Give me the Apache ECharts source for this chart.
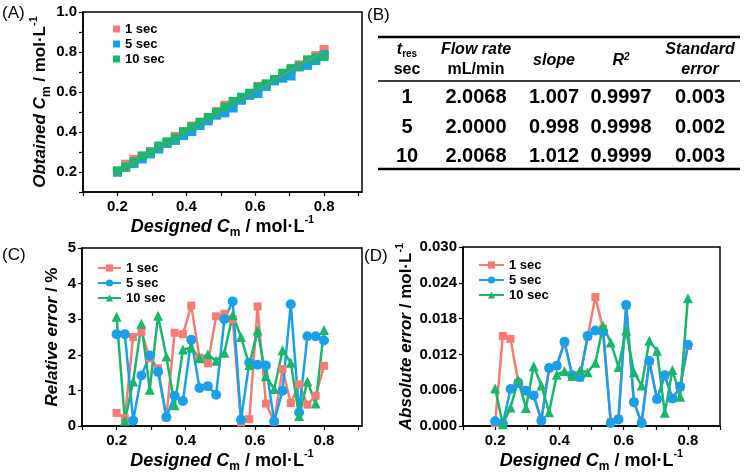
<!DOCTYPE html>
<html>
<head>
<meta charset="utf-8">
<script src="https://cdn.jsdelivr.net/npm/echarts@6/dist/echarts.min.js"></script>
<style>
html, body { margin: 0; padding: 0; background: #fff; }
#chart { width: 744px; height: 473px; }
</style>
</head>
<body>
<div id="chart"></div>
<script>
// designed concentration (mol/L), shared by A, C and D
const designed = [0.2, 0.224, 0.248, 0.272, 0.296, 0.32, 0.344, 0.368, 0.392, 0.416, 0.44, 0.464, 0.488,
  0.512, 0.536, 0.56, 0.584, 0.608, 0.632, 0.656, 0.68, 0.704, 0.728, 0.752, 0.776, 0.8];

// (A) obtained concentration
const obtained1 = [0.201, 0.239, 0.263, 0.279, 0.302, 0.325, 0.345, 0.378, 0.402, 0.430, 0.449, 0.472, 0.503,
  0.534, 0.552, 0.561, 0.585, 0.628, 0.636, 0.657, 0.691, 0.708, 0.736, 0.757, 0.782, 0.813];
const obtained5 = [0.199, 0.224, 0.242, 0.265, 0.290, 0.315, 0.343, 0.358, 0.382, 0.402, 0.432, 0.456, 0.484,
  0.496, 0.520, 0.559, 0.583, 0.592, 0.628, 0.656, 0.669, 0.680, 0.725, 0.733, 0.757, 0.787];
const obtained10 = [0.206, 0.224, 0.251, 0.280, 0.299, 0.330, 0.351, 0.370, 0.401, 0.425, 0.448, 0.473, 0.497,
  0.523, 0.553, 0.574, 0.594, 0.624, 0.641, 0.663, 0.694, 0.717, 0.730, 0.761, 0.771, 0.778];
// fit lines (ends)
const fitX = [0.2, 0.8];
const fit1 = [0.2, 0.806];
const fit5 = [0.199, 0.798];
const fit10 = [0.199, 0.81];

// (C) relative error, %
const rel1 = [0.37, 0.22, 2.50, 2.65, 1.90, 1.62, 0.24, 2.62, 2.58, 3.38, 1.92, 1.76, 3.08,
  3.15, 3.00, 0.10, 0.19, 3.36, 0.63, 0.12, 1.60, 0.64, 1.17, 0.60, 0.85, 1.69];
const rel5 = [2.58, 2.58, 0.15, 1.42, 1.98, 1.52, 0.25, 0.85, 0.70, 2.42, 1.07, 1.12, 0.88,
  3.00, 3.50, 0.18, 1.78, 1.72, 1.70, 0.13, 0.99, 3.42, 0.38, 2.52, 2.52, 2.40];
const rel10 = [3.07, 0.15, 1.25, 2.87, 1.02, 3.10, 1.95, 0.58, 2.15, 2.20, 1.90, 2.01, 1.83,
  2.06, 3.12, 2.50, 1.71, 2.68, 1.40, 1.04, 2.13, 1.78, 0.28, 1.25, 0.63, 2.70];

// (D) absolute error, mol/L
const abs1 = [0.0005, 0.0151, 0.0146, 0.0073, 0.0060, 0.0052, 0.0010, 0.0097, 0.0101, 0.0140, 0.0085, 0.0081, 0.0150,
  0.0216, 0.0163, 0.0007, 0.0012, 0.0202, 0.0040, 0.0006, 0.0108, 0.0045, 0.0085, 0.0046, 0.0065, 0.0134];
const abs5 = [0.0008, 0.0004, 0.0062, 0.0072, 0.0059, 0.0051, 0.0009, 0.0097, 0.0101, 0.0141, 0.0085, 0.0082, 0.0151,
  0.0160, 0.0158, 0.0005, 0.0011, 0.0203, 0.0040, 0.0005, 0.0109, 0.0045, 0.0085, 0.0046, 0.0066, 0.0136];
const abs10 = [0.0063, 0.0003, 0.0031, 0.0077, 0.0030, 0.0100, 0.0068, 0.0023, 0.0086, 0.0092, 0.0084, 0.0093, 0.0090,
  0.0106, 0.0168, 0.0140, 0.0099, 0.0160, 0.0090, 0.0068, 0.0143, 0.0126, 0.0022, 0.0094, 0.0049, 0.0214];

// (B) table
const tres = ['1', '5', '10'];
const flowRate = ['2.0068', '2.0000', '2.0068'];
const slope = ['1.007', '0.998', '1.012'];
const r2 = ['0.9997', '0.9998', '0.9999'];
const stdErr = ['0.003', '0.002', '0.003'];

const seriesNames = ['1 sec', '5 sec', '10 sec'];
const xLabelTicks = [0.2, 0.4, 0.6, 0.8];
const xMinorTicks = [0.1, 0.2, 0.3, 0.4, 0.5, 0.6, 0.7, 0.8, 0.9];

const colors = ['#F47C74', '#1AA0EA', '#1CB56C'];
const FF = 'Liberation Sans, Arial, sans-serif';

function pairs(xs, ys) {
  return xs.map((x, i) => [x, ys[i]]);
}

const nameRich = {
  i: { fontStyle: 'italic', fontWeight: 'bold', fontSize: 18, lineHeight: 24, fontFamily: FF, color: '#000' },
  s: { fontWeight: 'bold', fontSize: 12, lineHeight: 12, verticalAlign: 'bottom', fontFamily: FF, color: '#000' },
  b: { fontWeight: 'bold', fontSize: 18, lineHeight: 24, fontFamily: FF, color: '#000' },
  p: { fontWeight: 'bold', fontSize: 11, lineHeight: 12, verticalAlign: 'top', fontFamily: FF, color: '#000' }
};
const yRich = {
  i: Object.assign({}, nameRich.i, { fontSize: 17 }),
  s: nameRich.s,
  b: Object.assign({}, nameRich.b, { fontSize: 17 }),
  p: nameRich.p
};
const xName = '{i|Designed C}{s|m}{b| / mol·L}{p|-1}';

function xAxisFor(grid, min, max) {
  return {
    type: 'value', gridIndex: grid, min: min, max: max,
    name: xName, nameLocation: 'middle', nameGap: 22,
    nameTextStyle: { rich: nameRich },
    axisLine: { show: true, onZero: false, lineStyle: { color: '#000', width: 1.5 } },
    axisTick: { show: true, length: 4, customValues: xMinorTicks, lineStyle: { color: '#000', width: 1.2 } },
    axisLabel: { customValues: xLabelTicks, margin: 7, color: '#000', fontSize: 15, fontWeight: 'bold',
      fontFamily: FF, formatter: v => v.toFixed(1) },
    splitLine: { show: false }
  };
}

function yAxisFor(grid, opts) {
  return Object.assign({
    type: 'value', gridIndex: grid, nameLocation: 'middle',
    nameTextStyle: { rich: yRich },
    axisLine: { show: true, lineStyle: { color: '#000', width: 1.5 } },
    axisTick: { show: true, length: 4, lineStyle: { color: '#000', width: 1.2 } },
    splitLine: { show: false }
  }, opts);
}

const yLabelStyle = { margin: 6, color: '#000', fontSize: 15, fontWeight: 'bold', fontFamily: FF };

const series = [];
// (A) scatter + fit lines
[obtained1, obtained5, obtained10].forEach((ys, k) => {
  series.push({
    name: 'A:' + seriesNames[k], type: 'scatter', xAxisIndex: 0, yAxisIndex: 0,
    symbol: 'rect', symbolSize: 9, itemStyle: { color: colors[k], opacity: 1 },
    data: pairs(designed, ys)
  });
});
[fit1, fit5, fit10].forEach((ys, k) => {
  series.push({
    type: 'line', xAxisIndex: 0, yAxisIndex: 0, symbol: 'none',
    lineStyle: { color: colors[k], width: 1.2 }, data: pairs(fitX, ys), z: 3
  });
});
// (C)
const markers = ['rect', 'circle', 'triangle'];
const markerSizes = [8, 10, 10];
[rel1, rel5, rel10].forEach((ys, k) => {
  series.push({
    name: 'C:' + seriesNames[k], type: 'line', xAxisIndex: 1, yAxisIndex: 1,
    symbol: markers[k], symbolSize: markerSizes[k],
    itemStyle: { color: colors[k] }, lineStyle: { color: colors[k], width: 2.5 },
    data: pairs(designed, ys)
  });
});
// (D)
[abs1, abs5, abs10].forEach((ys, k) => {
  series.push({
    name: 'D:' + seriesNames[k], type: 'line', xAxisIndex: 2, yAxisIndex: 2,
    symbol: markers[k], symbolSize: markerSizes[k],
    itemStyle: { color: colors[k] }, lineStyle: { color: colors[k], width: 2.5 },
    data: pairs(designed, ys)
  });
});

function legendFor(prefix, left, top, iconW, iconH) {
  return {
    orient: 'vertical', left: left, top: top, itemWidth: iconW, itemHeight: iconH, itemGap: 1,
    data: seriesNames.map(n => prefix + ':' + n),
    formatter: n => n.split(':')[1],
    selectedMode: false,
    textStyle: { fontSize: 13, fontWeight: 'bold', color: '#000', fontFamily: FF, lineHeight: 14 }
  };
}

// table of panel B
const colX = [407, 476, 554, 621, 700];
const rowY = [97, 127, 156];
const graphic = [];
function txt(x, y, text, extra) {
  graphic.push({
    type: 'text', x: x, y: y,
    style: Object.assign({ text: text, fill: '#000', fontFamily: FF, fontSize: 16, fontWeight: 'bold',
      align: 'center', verticalAlign: 'middle' }, extra || {})
  });
}
function hline(y, w) {
  graphic.push({ type: 'line', shape: { x1: 378, y1: y, x2: 740, y2: y }, style: { stroke: '#000', lineWidth: w } });
}
hline(37, 2.5);
hline(81, 1.5);
hline(169, 2.5);
txt(colX[0], 50, '{t|t}{r|res}', {
  rich: {
    t: { fontStyle: 'italic', fontWeight: 'bold', fontSize: 16, lineHeight: 18, fontFamily: FF },
    r: { fontWeight: 'bold', fontSize: 10, lineHeight: 10, verticalAlign: 'bottom', fontFamily: FF }
  }
});
txt(colX[0], 70, 'sec');
txt(colX[1], 50, 'Flow rate', { fontStyle: 'italic' });
txt(colX[1], 70, 'mL/min');
txt(colX[2], 61, 'slope', { fontStyle: 'italic' });
txt(colX[3], 61, '{r|R}{s|2}', {
  rich: {
    r: { fontStyle: 'italic', fontWeight: 'bold', fontSize: 16, lineHeight: 18, fontFamily: FF },
    s: { fontStyle: 'italic', fontWeight: 'bold', fontSize: 10, lineHeight: 10, verticalAlign: 'top', fontFamily: FF }
  }
});
txt(colX[4], 50, 'Standard', { fontStyle: 'italic' });
txt(colX[4], 70, 'error', { fontStyle: 'italic' });
[tres, flowRate, slope, r2, stdErr].forEach((col, c) => {
  col.forEach((v, r) => txt(colX[c], rowY[r], v, { fontSize: 20 }));
});
// panel letters
[['(A)', 2, 13], ['(B)', 367, 15], ['(C)', 2, 255], ['(D)', 364, 256]].forEach(p => {
  txt(p[1], p[2], p[0], { fontWeight: 'normal', fontSize: 17, align: 'left' });
});

const myChart = echarts.init(document.getElementById('chart'));
const option = {
  backgroundColor: '#fff',
  animation: false,
  textStyle: { fontFamily: FF },
  grid: [
    { left: 83, top: 12, width: 279, height: 180, show: true, borderColor: '#000', borderWidth: 1.5, outerBoundsMode: 'none' },
    { left: 82, top: 248, width: 280, height: 178, show: true, borderColor: '#000', borderWidth: 1.5, outerBoundsMode: 'none' },
    { left: 463, top: 247, width: 257, height: 179, show: true, borderColor: '#000', borderWidth: 1.5, outerBoundsMode: 'none' }
  ],
  xAxis: [
    xAxisFor(0, 0.1, 0.91),
    xAxisFor(1, 0.1, 0.91),
    xAxisFor(2, 0.1, 0.9)
  ],
  yAxis: [
    yAxisFor(0, {
      min: 0.1, max: 1.0, interval: 0.1, name: '{i|Obtained C}{s|m}{b| / mol·L}{p|-1}', nameGap: 30,
      axisLabel: Object.assign({
        formatter: v => (Math.round(v * 10) % 2 === 0 ? v.toFixed(1) : '')
      }, yLabelStyle)
    }),
    yAxisFor(1, {
      min: 0, max: 5, interval: 1, name: '{i|Relative error}{b| / %}', nameGap: 18,
      axisLabel: Object.assign({}, yLabelStyle)
    }),
    yAxisFor(2, {
      min: 0, max: 0.03, interval: 0.006, name: '{i|Absolute error}{b| / mol·L}{p|-1}', nameGap: 45,
      axisLabel: Object.assign({ formatter: v => v.toFixed(3) }, yLabelStyle)
    })
  ],
  legend: [
    legendFor('A', 108, 17, 7, 7),
    legendFor('C', 92, 256, 23, 9),
    legendFor('D', 473, 253, 25, 9)
  ],
  graphic: graphic,
  series: series
};
myChart.setOption(option);
</script>
</body>
</html>
